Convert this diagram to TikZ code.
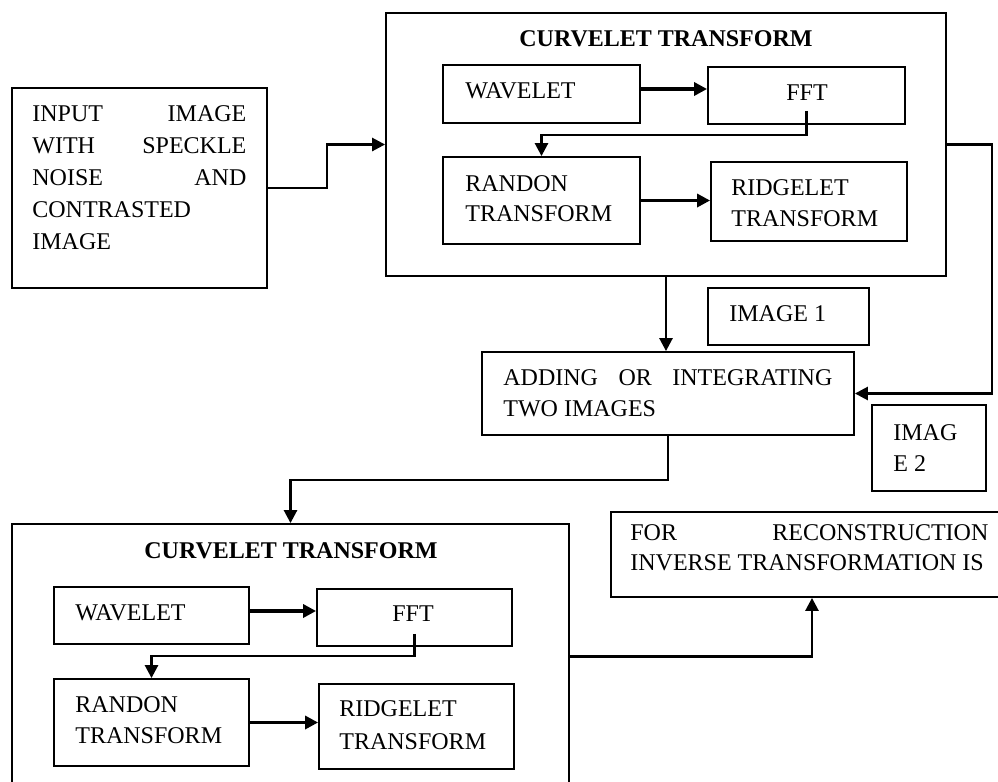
\documentclass[tikz,border=0pt]{standalone}
\usepackage{fontspec}
\setmainfont{Liberation Serif}
\usetikzlibrary{arrows.meta,fit,calc}
\begin{document}
\begin{tikzpicture}[x=0.5pt,y=-0.5pt,
 box/.style={draw, line width=0.9pt, inner sep=0pt},
 txt/.style={inner sep=0pt, anchor=base west, font=\fontsize{12}{14}\selectfont},
 ctr/.style={inner sep=0pt, anchor=base, font=\fontsize{12}{14}\selectfont},
 ttl/.style={inner sep=0pt, anchor=base, font=\fontsize{12}{14}\selectfont\bfseries},
 arr/.style={line width=1.3pt, -{Triangle[length=6.5pt,width=6.5pt]}},
 inarr/.style={line width=1.6pt, -{Triangle[length=6.5pt,width=6.5pt]}}]
\useasboundingbox (0,0) rectangle (998,782);
\clip (0,0) rectangle (998,782);

% input
\node[box, fit={(12,88) (267,288)}] (in) {};
\node[txt] (inA) at (32,121) {\makebox[107pt][s]{INPUT IMAGE}};
\node[txt] (inB) at (32,153) {\makebox[107pt][s]{WITH SPECKLE}};
\node[txt] (inC) at (32,185) {\makebox[107pt][s]{NOISE AND}};
\node[txt] (inD) at (32,217) {CONTRASTED};
\node[txt] (inE) at (32,249) {IMAGE};

% top curvelet
\node[box, fit={(386,13) (946,276)}] (cv1) {};
\node[ttl] (cv1t) at (666,46) {CURVELET TRANSFORM};
\node[box, fit={(443,65) (640,123)}] (wav) {};
\node[txt] (wavt) at (465,98) {WAVELET};
\node[box, fit={(708,67) (905,124)}] (fft) {};
\node[ctr] (fftt) at (807,100) {FFT};
\node[box, fit={(443,157) (640,244)}] (ran) {};
\node[txt] (ranA) at (465,191) {RANDON};
\node[txt] (ranB) at (465,221) {TRANSFORM};
\node[box, fit={(711,162) (907,241)}] (rid) {};
\node[txt] (ridA) at (731,195) {RIDGELET};
\node[txt] (ridB) at (731,226) {TRANSFORM};

% image 1, adding, image 2
\node[box, fit={(708,288) (869,345)}] (img1) {};
\node[txt] (img1t) at (729,321) {IMAGE 1};
\node[box, fit={(482,352) (854,435)}] (add) {};
\node[txt] (addA) at (503,385) {\makebox[164.5pt][s]{ADDING OR INTEGRATING}};
\node[txt] (addB) at (503,416) {TWO IMAGES};
\node[box, fit={(872,405) (986,491)}] (img2) {};
\node[txt] (img2A) at (893,440) {IMAG};
\node[txt] (img2B) at (893,471) {E 2};

% bottom curvelet
\node[box, fit={(12,524) (569,789)}] (cv2) {};
\node[ttl] (cv2t) at (291,558) {CURVELET TRANSFORM};
\node[box, fit={(54,587) (249,644)}] (wav2) {};
\node[txt] (wav2t) at (75,620) {WAVELET};
\node[box, fit={(317,589) (512,646)}] (fft2) {};
\node[ctr] (fft2t) at (413,621) {FFT};
\node[box, fit={(54,679) (249,766)}] (ran2) {};
\node[txt] (ran2A) at (75,712) {RANDON};
\node[txt] (ran2B) at (75,743) {TRANSFORM};
\node[box, fit={(319,684) (514,769)}] (rid2) {};
\node[txt] (rid2A) at (339,716) {RIDGELET};
\node[txt] (rid2B) at (339,749) {TRANSFORM};

% reconstruction
\node[box, fit={(611,512) (1013,597)}] (rec) {};
\node[txt] (recA) at (630,540) {\makebox[179pt][s]{FOR RECONSTRUCTION}};
\node[txt] (recB) at (630,570) {INVERSE TRANSFORMATION IS};

% connectors
\draw[arr] (in.east) -- ++(59,0) |- (cv1.west);
\draw[inarr] ([yshift=2.5pt]wav.east) -- ([yshift=2.5pt]wav.east -| fft.west);
\draw[arr] ([yshift=7pt]fft.south) -- ++(0,24) -| (ran.north);
\draw[inarr] (ran.east) -- (ran.east -| rid.west);
\draw[arr] (cv1.east) -- ++(45,0) |- (add.east);
\draw[arr] (cv1.south) -- (cv1.south |- add.north);
\draw[arr] (add.south) -- ++(0,44) -| (cv2.north);
\draw[inarr] ([yshift=2.25pt]wav2.east) -- ([yshift=2.25pt]wav2.east -| fft2.west);
\draw[arr] ([yshift=6.5pt]fft2.south) -- ++(0,22) -| (ran2.north);
\draw[inarr] (ran2.east) -- (ran2.east -| rid2.west);
\draw[arr] (cv2.east) -| (rec.south);
\end{tikzpicture}
\end{document}
